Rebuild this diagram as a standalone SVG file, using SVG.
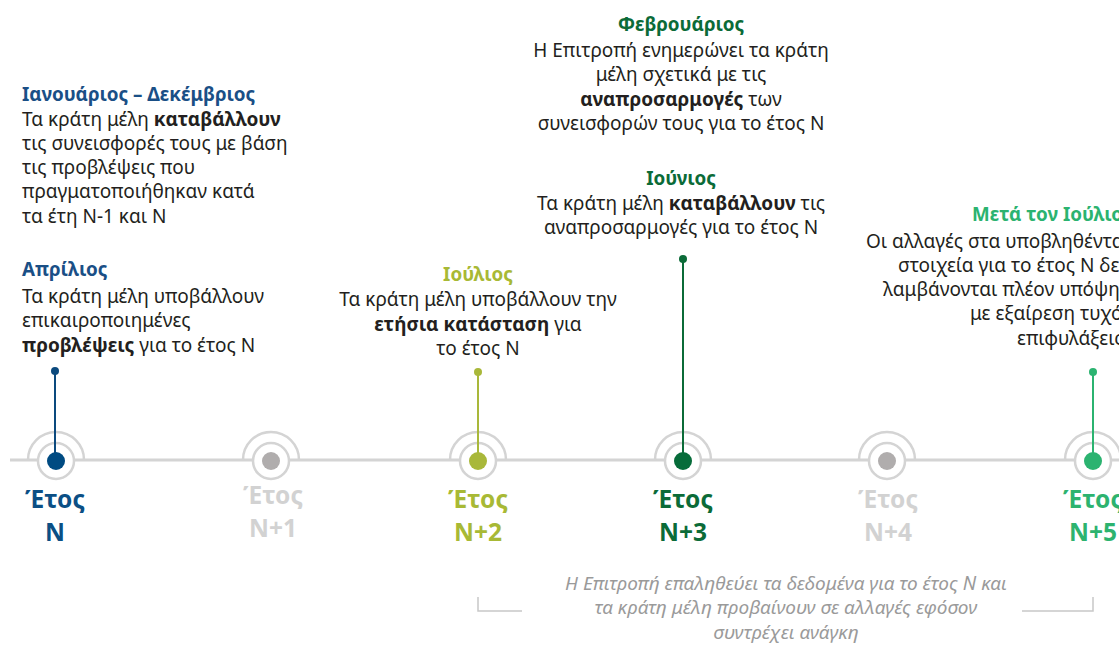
<svg xmlns="http://www.w3.org/2000/svg" width="1119" height="646" viewBox="0 0 1119 646">
<defs>
<style>
text{font-family:"Noto Sans","Open Sans",sans-serif;}
.t{font-size:19px;fill:#231f20;}
.b{font-weight:bold;}
.h{font-size:18.8px;font-weight:bold;}
.c{text-anchor:middle;}
.yr{font-size:24.5px;font-weight:bold;text-anchor:middle;}
.it{font-size:19px;font-style:italic;fill:#9a9a9a;text-anchor:middle;}
.ring{fill:none;stroke:#d4d4d4;stroke-width:2.5;}
.inner{fill:#fff;stroke:#d4d4d4;stroke-width:2.5;}
.axis{stroke:#d4d4d4;stroke-width:3;}
.br{fill:none;stroke:#c8c8c8;stroke-width:1.5;}
</style>
</defs>
<rect width="1119" height="646" fill="#fff"/>
<g id="connectors">
<line class="axis" x1="10" y1="460" x2="1119" y2="460"/>
</g>
<g id="node-N">
<path class="ring" d="M28 460 A28 28 0 0 1 84 460"/>
<circle class="inner" cx="56" cy="461" r="18"/>
<line x1="55" y1="371" x2="55" y2="455" stroke="#0c4a7e" stroke-width="2"/>
<circle cx="55" cy="371" r="4" fill="#0c4a7e"/>
<circle cx="56" cy="461" r="9" fill="#004b82"/>
<text class="yr" x="55" y="508" fill="#0b4f85">Έτος</text>
<text class="yr" x="55" y="541" fill="#0b4f85">N</text>
</g>
<g id="node-N1">
<path class="ring" d="M243 460 A28 28 0 0 1 299 460"/>
<circle class="inner" cx="271" cy="461" r="18"/>
<circle cx="271" cy="461" r="9" fill="#b0adad"/>
<text class="yr" x="273" y="504" fill="#d2d2d2">Έτος</text>
<text class="yr" x="273" y="537" fill="#d2d2d2">N+1</text>
</g>
<g id="node-N2">
<path class="ring" d="M450 460 A28 28 0 0 1 506 460"/>
<circle class="inner" cx="478" cy="461" r="18"/>
<line x1="478" y1="372" x2="478" y2="455" stroke="#a9b83a" stroke-width="2"/>
<circle cx="478" cy="372" r="4" fill="#a9b83a"/>
<circle cx="478" cy="461" r="9" fill="#a9b83a"/>
<text class="yr" x="478" y="508" fill="#a8b935">Έτος</text>
<text class="yr" x="478" y="541" fill="#a8b935">N+2</text>
</g>
<g id="node-N3">
<path class="ring" d="M655 460 A28 28 0 0 1 711 460"/>
<circle class="inner" cx="683" cy="461" r="18"/>
<line x1="683" y1="259" x2="683" y2="455" stroke="#0b6b38" stroke-width="2"/>
<circle cx="683" cy="259" r="4" fill="#0b6b38"/>
<circle cx="683" cy="461" r="9" fill="#076c3a"/>
<text class="yr" x="683" y="508" fill="#0b6b38">Έτος</text>
<text class="yr" x="683" y="541" fill="#0b6b38">N+3</text>
</g>
<g id="node-N4">
<path class="ring" d="M859 460 A28 28 0 0 1 915 460"/>
<circle class="inner" cx="887" cy="461" r="18"/>
<circle cx="887" cy="461" r="9" fill="#b0adad"/>
<text class="yr" x="888" y="508" fill="#d2d2d2">Έτος</text>
<text class="yr" x="888" y="541" fill="#d2d2d2">N+4</text>
</g>
<g id="node-N5">
<path class="ring" d="M1065 460 A28 28 0 0 1 1121 460"/>
<circle class="inner" cx="1093" cy="461" r="18"/>
<line x1="1093" y1="372" x2="1093" y2="455" stroke="#2bb370" stroke-width="2"/>
<circle cx="1093" cy="372" r="4" fill="#2bb370"/>
<circle cx="1093" cy="461" r="9" fill="#2bb370"/>
<text class="yr" x="1093" y="508" fill="#2db36f">Έτος</text>
<text class="yr" x="1093" y="541" fill="#2db36f">N+5</text>
</g>
<g id="note-jan-dec">
<text class="h" x="22" y="101" fill="#1a4f86">Ιανουάριος – Δεκέμβριος</text>
<text class="t" x="22" y="126">Τα κράτη μέλη <tspan class="b">καταβάλλουν</tspan></text>
<text class="t" x="22" y="150">τις συνεισφορές τους με βάση</text>
<text class="t" x="22" y="174">τις προβλέψεις που</text>
<text class="t" x="22" y="198">πραγματοποιήθηκαν κατά</text>
<text class="t" x="22" y="223">τα έτη N-1 και N</text>
</g>
<g id="note-apr">
<text class="h" x="22" y="276" fill="#1a4f86">Απρίλιος</text>
<text class="t" x="22" y="303">Τα κράτη μέλη υποβάλλουν</text>
<text class="t" x="22" y="327">επικαιροποιημένες</text>
<text class="t" x="22" y="352"><tspan class="b">προβλέψεις</tspan> για το έτος N</text>
</g>
<g id="note-jul">
<text class="h c" x="478" y="281" fill="#a8b935">Ιούλιος</text>
<text class="t c" x="478" y="306">Τα κράτη μέλη υποβάλλουν την</text>
<text class="t c" x="478" y="331"><tspan class="b">ετήσια κατάσταση</tspan> για</text>
<text class="t c" x="478" y="355">το έτος N</text>
</g>
<g id="note-feb">
<text class="h c" x="681" y="31" fill="#0b6b38">Φεβρουάριος</text>
<text class="t c" x="681" y="57">Η Επιτροπή ενημερώνει τα κράτη</text>
<text class="t c" x="681" y="81">μέλη σχετικά με τις</text>
<text class="t c" x="681" y="106"><tspan class="b">αναπροσαρμογές</tspan> των</text>
<text class="t c" x="681" y="130">συνεισφορών τους για το έτος N</text>
</g>
<g id="note-jun">
<text class="h c" x="681" y="185" fill="#0b6b38">Ιούνιος</text>
<text class="t c" x="681" y="210">Τα κράτη μέλη <tspan class="b">καταβάλλουν</tspan> τις</text>
<text class="t c" x="681" y="234">αναπροσαρμογές για το έτος N</text>
</g>
<g id="note-after-jul">
<text class="h" x="972" y="221" fill="#2bb370">Μετά τον Ιούλιο</text>
<text class="t" x="866" y="248">Οι αλλαγές στα υποβληθέντα</text>
<text class="t" x="898" y="272">στοιχεία για το έτος N δεν</text>
<text class="t" x="883" y="296">λαμβάνονται πλέον υπόψη,</text>
<text class="t" x="970" y="320">με εξαίρεση τυχόν</text>
<text class="t" x="1017" y="345">επιφυλάξεις</text>
</g>
<g id="note-verify">
<path class="br" d="M478 597 V611 H522"/>
<path class="br" d="M1022 611 H1093 V597"/>
<text class="it" x="786" y="590">Η Επιτροπή επαληθεύει τα δεδομένα για το έτος N και</text>
<text class="it" x="786" y="614">τα κράτη μέλη προβαίνουν σε αλλαγές εφόσον</text>
<text class="it" x="786" y="639">συντρέχει ανάγκη</text>
</g>
</svg>
